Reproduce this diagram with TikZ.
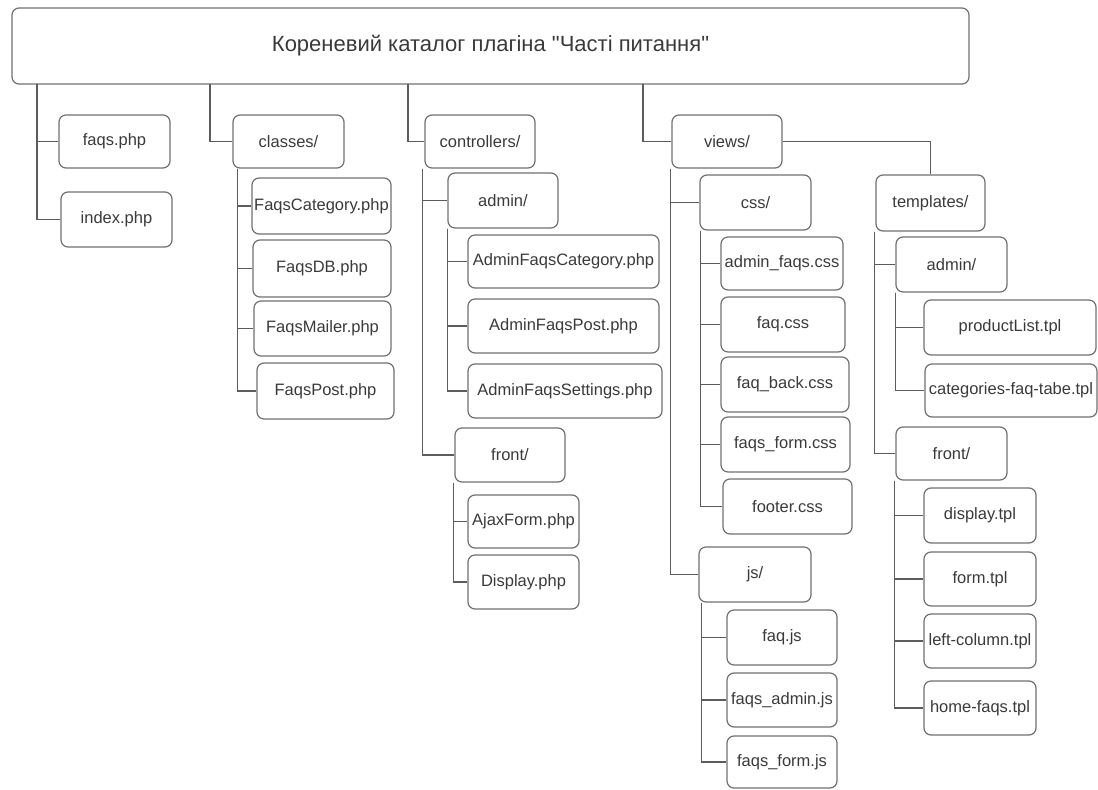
\documentclass[tikz,border=0pt]{standalone}
\usepackage{fontspec}
\setmainfont{Liberation Sans}[Ligatures=TeXOff]
\definecolor{boxline}{HTML}{707070}
\definecolor{conline}{HTML}{5C5C5C}
\definecolor{txt}{HTML}{3A3A3A}
\tikzset{
  fbox/.style={draw=boxline, line width=1.2pt, rounded corners=7pt, inner sep=0pt,
    text=txt, font=\fontsize{16.5}{19}\selectfont},
  rootbox/.style={fbox, font=\fontsize{22}{26}\selectfont},
  link/.style={draw=conline, line width=1.1pt},
}
% place a box by its corners: \bx{name}{x1}{y1}{x2}{y2}{text}
\newcommand{\bx}[6]{%
  \node[fbox, minimum width={(#4-#2)*1pt}, minimum height={(#5-#3)*1pt}]
    (#1) at ({(#2+#4)/2},{(#3+#5)/2}) {#6};}
\begin{document}
\begin{tikzpicture}[x=1pt,y=-1pt]
\useasboundingbox (0,0) rectangle (1098,790);
% root
\node[rootbox, minimum width=957pt, minimum height=76pt] (root) at (490.5,46)
  {Кореневий каталог плагіна "Часті питання"};
% top level
\bx{faqs}{59}{115}{170}{168}{faqs.php}
\bx{index}{61}{192}{172}{247}{index.php}
\bx{classes}{233}{115}{344}{168}{classes/}
\bx{controllers}{425}{115}{535}{168}{controllers/}
\bx{views}{672}{115}{782}{168}{views/}
% classes
\bx{fcat}{252}{178}{391}{234}{FaqsCategory.php}
\bx{fdb}{253}{240}{391}{297}{FaqsDB.php}
\bx{fmail}{254}{301}{391}{356}{FaqsMailer.php}
\bx{fpost}{257}{363}{394}{419}{FaqsPost.php}
% controllers
\bx{cadmin}{448}{173}{558}{228}{admin/}
\bx{acat}{468}{235}{659}{288}{AdminFaqsCategory.php}
\bx{apost}{468}{299}{659}{353}{AdminFaqsPost.php}
\bx{aset}{468}{364}{662}{418}{AdminFaqsSettings.php}
\bx{cfront}{455}{428}{565}{482}{front/}
\bx{ajax}{468}{495}{579}{548}{AjaxForm.php}
\bx{disp}{468}{555}{579}{609}{Display.php}
% views
\bx{css}{700}{175}{811}{230}{css/}
\bx{afcss}{721}{237}{843}{290}{admin\_faqs.css}
\bx{faqcss}{721}{297}{845}{352}{faq.css}
\bx{backcss}{721}{357}{849}{412}{faq\_back.css}
\bx{formcss}{721}{417}{850}{472}{faqs\_form.css}
\bx{footcss}{723}{479}{852}{534}{footer.css}
\bx{js}{699}{547}{811}{602}{js/}
\bx{faqjs}{727}{610}{837}{665}{faq.js}
\bx{adminjs}{727}{673}{837}{727}{faqs\_admin.js}
\bx{formjs}{727}{736}{837}{788}{faqs\_form.js}
% templates
\bx{templates}{876}{175}{985}{231}{templates/}
\bx{tadmin}{896}{237}{1007}{292}{admin/}
\bx{plist}{924}{300}{1096}{355}{productList.tpl}
\bx{cattpl}{925}{364}{1097}{417}{categories-faq-tabe.tpl}
\bx{tfront}{896}{427}{1007}{480}{front/}
\bx{dtpl}{924}{488}{1036}{543}{display.tpl}
\bx{ftpl}{924}{552}{1036}{606}{form.tpl}
\bx{lctpl}{924}{614}{1036}{668}{left-column.tpl}
\bx{htpl}{924}{681}{1036}{735}{home-faqs.tpl}
% trunks from the root
\coordinate (r1) at (37,84);
\coordinate (r2) at (210,84);
\coordinate (r3) at (408,84);
\coordinate (r4) at (643,84);
\draw[link] (r1) |- (faqs.west);
\draw[link] (r1) |- (index.west);
\draw[link] (r2) |- (classes.west);
\draw[link] (r3) |- (controllers.west);
\draw[link] (r4) |- (views.west);
\draw[link] (views.east) -| (templates.north);
% classes
\foreach \c in {fcat,fdb,fmail,fpost}
  \draw[link] ([xshift=5pt]classes.south west) |- (\c.west);
% controllers
\foreach \c in {cadmin,cfront}
  \draw[link] ([xshift=-2pt]controllers.south west) |- (\c.west);
\foreach \c in {acat,apost,aset}
  \draw[link] (cadmin.south west) |- (\c.west);
\foreach \c in {ajax,disp}
  \draw[link] ([xshift=-1pt]cfront.south west) |- (\c.west);
% views
\foreach \c in {css,js}
  \draw[link] ([xshift=-1pt]views.south west) |- (\c.west);
\foreach \c in {afcss,faqcss,backcss,formcss,footcss}
  \draw[link] ([xshift=1pt]css.south west) |- (\c.west);
\foreach \c in {faqjs,adminjs,formjs}
  \draw[link] ([xshift=3pt]js.south west) |- (\c.west);
% templates
\foreach \c in {tadmin,tfront}
  \draw[link] ([xshift=-1pt]templates.south west) |- (\c.west);
\foreach \c in {plist,cattpl}
  \draw[link] (tadmin.south west) |- (\c.west);
\foreach \c in {dtpl,ftpl,lctpl,htpl}
  \draw[link] ([xshift=-1pt]tfront.south west) |- (\c.west);
\end{tikzpicture}
\end{document}
